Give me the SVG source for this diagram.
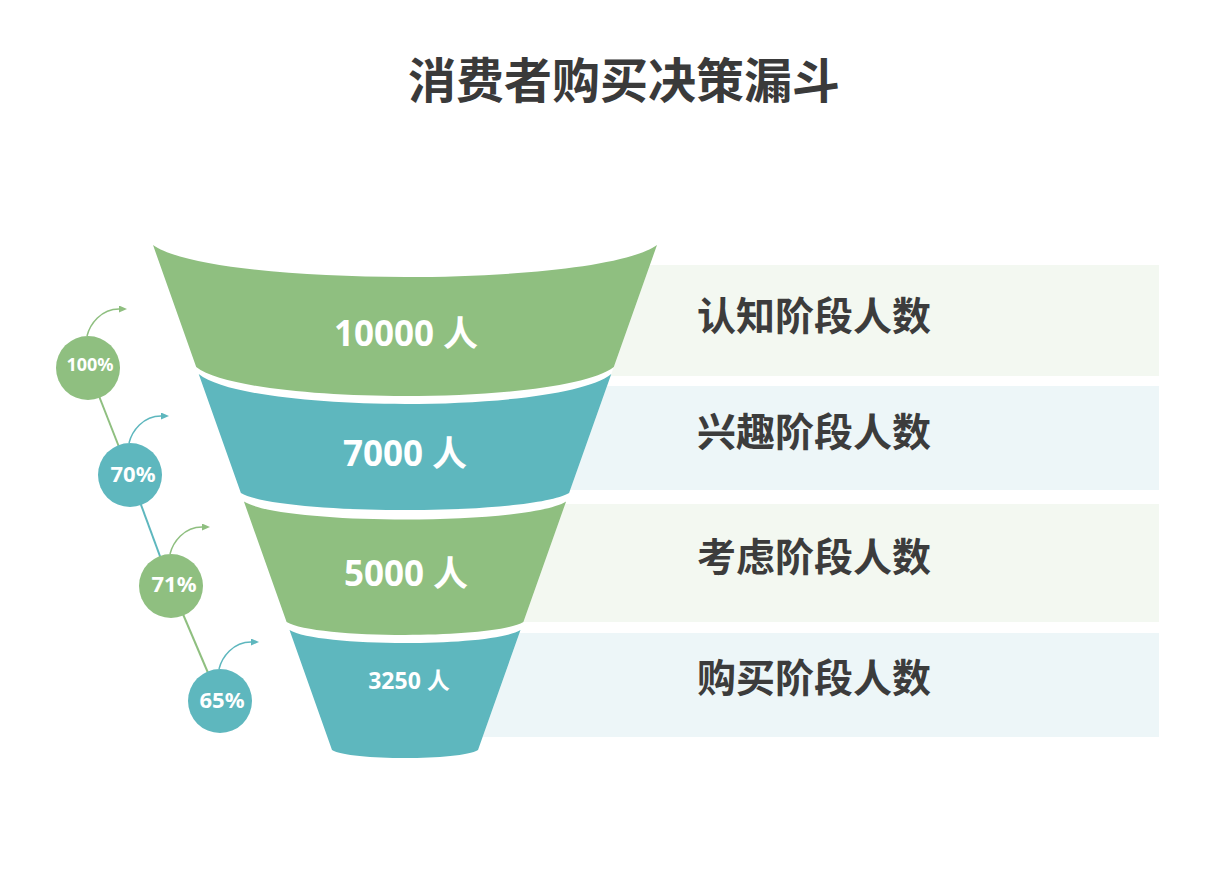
<svg xmlns="http://www.w3.org/2000/svg" width="1214" height="877" viewBox="0 0 1214 877">
<style>
.g{fill:#8FBF80}
.t{fill:#5EB7BE}
.bg{fill:#F3F8F1}
.bt{fill:#EDF6F8}
.title{font-family:"Noto Sans CJK SC","Noto Sans",sans-serif;font-weight:700;font-size:48px;fill:#3A3A3A}
.lab{font-family:"Noto Sans CJK SC","Noto Sans",sans-serif;font-weight:700;font-size:39px;fill:#3C3C3C}
.num{font-family:"Noto Sans","Noto Sans CJK SC",sans-serif;font-weight:700;fill:#FFFFFF;text-anchor:middle}
.pct{font-family:"Noto Sans","Noto Sans CJK SC",sans-serif;font-weight:700;fill:#FFFFFF;text-anchor:middle}
.lg{stroke:#8FBF80;stroke-width:2;fill:none}
.lt{stroke:#5EB7BE;stroke-width:2;fill:none}
.ag{stroke:#8FBF80;stroke-width:1.5;fill:none;marker-end:url(#mg)}
.at{stroke:#5EB7BE;stroke-width:1.5;fill:none;marker-end:url(#mt)}
</style>
<defs>
<marker id="mg" markerUnits="userSpaceOnUse" markerWidth="9" markerHeight="8" refX="0" refY="3.5" orient="auto"><path d="M0,0 L8,3.5 L0,7 Z" fill="#8FBF80"/></marker>
<marker id="mt" markerUnits="userSpaceOnUse" markerWidth="9" markerHeight="8" refX="0" refY="3.5" orient="auto"><path d="M0,0 L8,3.5 L0,7 Z" fill="#5EB7BE"/></marker>
</defs>
<rect x="0" y="0" width="1214" height="877" fill="#FFFFFF"/>
<text class="title" x="624" y="98" text-anchor="middle">消费者购买决策漏斗</text>

<g id="bars">
<polygon class="bg" points="649.9,265 1159,265 1159,376 610.6,376"/>
<polygon class="bt" points="607,386 1159,386 1159,490 570.1,490"/>
<polygon class="bg" points="565.2,504 1159,504 1159,622 523.4,622"/>
<polygon class="bt" points="519.5,633 1159,633 1159,737 482.6,737"/>
</g>

<g id="stage1">
<path class="g" d="M153,245 C213.5,287.7 596.5,287.7 657,245 L613.8,367 C563.7,405.7 246.3,405.7 196.2,367 Z"/>
<text class="num" x="406" y="346" font-size="35">10000 人</text>
<text class="lab" x="697" y="330">认知阶段人数</text>
</g>
<g id="stage2">
<path class="t" d="M198.7,374 C248.2,414 561.8,414 611.3,374 L569.1,493 C529.7,515.7 280.3,515.7 240.9,493 Z"/>
<text class="num" x="405" y="466" font-size="35">7000 人</text>
<text class="lab" x="697" y="446">兴趣阶段人数</text>
</g>
<g id="stage3">
<path class="g" d="M243.9,501.5 C282.6,525.5 527.4,525.5 566.1,501.5 L523.4,622 C495,639.3 315,639.3 286.6,622 Z"/>
<text class="num" x="406" y="586" font-size="35">5000 人</text>
<text class="lab" x="697" y="571">考虑阶段人数</text>
</g>
<g id="stage4">
<path class="t" d="M289.5,630 C317.2,647.3 492.8,647.3 520.5,630 L478,750 C460.5,760.7 349.5,760.7 332,750 Z"/>
<text class="num" x="409" y="689" font-size="23">3250 人</text>
<text class="lab" x="697" y="692">购买阶段人数</text>
</g>

<g id="connectors">
<line class="lg" x1="88" y1="368" x2="130" y2="475"/>
<line class="lt" x1="130" y1="475" x2="171" y2="586"/>
<line class="lg" x1="171" y1="586" x2="220" y2="701"/>
<path class="ag" d="M87,336 C90,324 101,309 119,309"/>
<path class="at" d="M129,443 C132,431 143,416 161,416"/>
<path class="ag" d="M170,554 C173,542 184,527 202,527"/>
<path class="at" d="M219,669 C222,657 233,642 251,642"/>
</g>

<g id="rate1">
<circle class="g" cx="88" cy="368" r="32"/>
<text class="pct" x="90" y="371" font-size="18">100%</text>
</g>
<g id="rate2">
<circle class="t" cx="130" cy="475" r="32"/>
<text class="pct" x="133" y="482" font-size="22">70%</text>
</g>
<g id="rate3">
<circle class="g" cx="171" cy="586" r="32"/>
<text class="pct" x="174" y="592" font-size="22">71%</text>
</g>
<g id="rate4">
<circle class="t" cx="220" cy="701" r="32"/>
<text class="pct" x="222" y="708" font-size="22">65%</text>
</g>
</svg>
